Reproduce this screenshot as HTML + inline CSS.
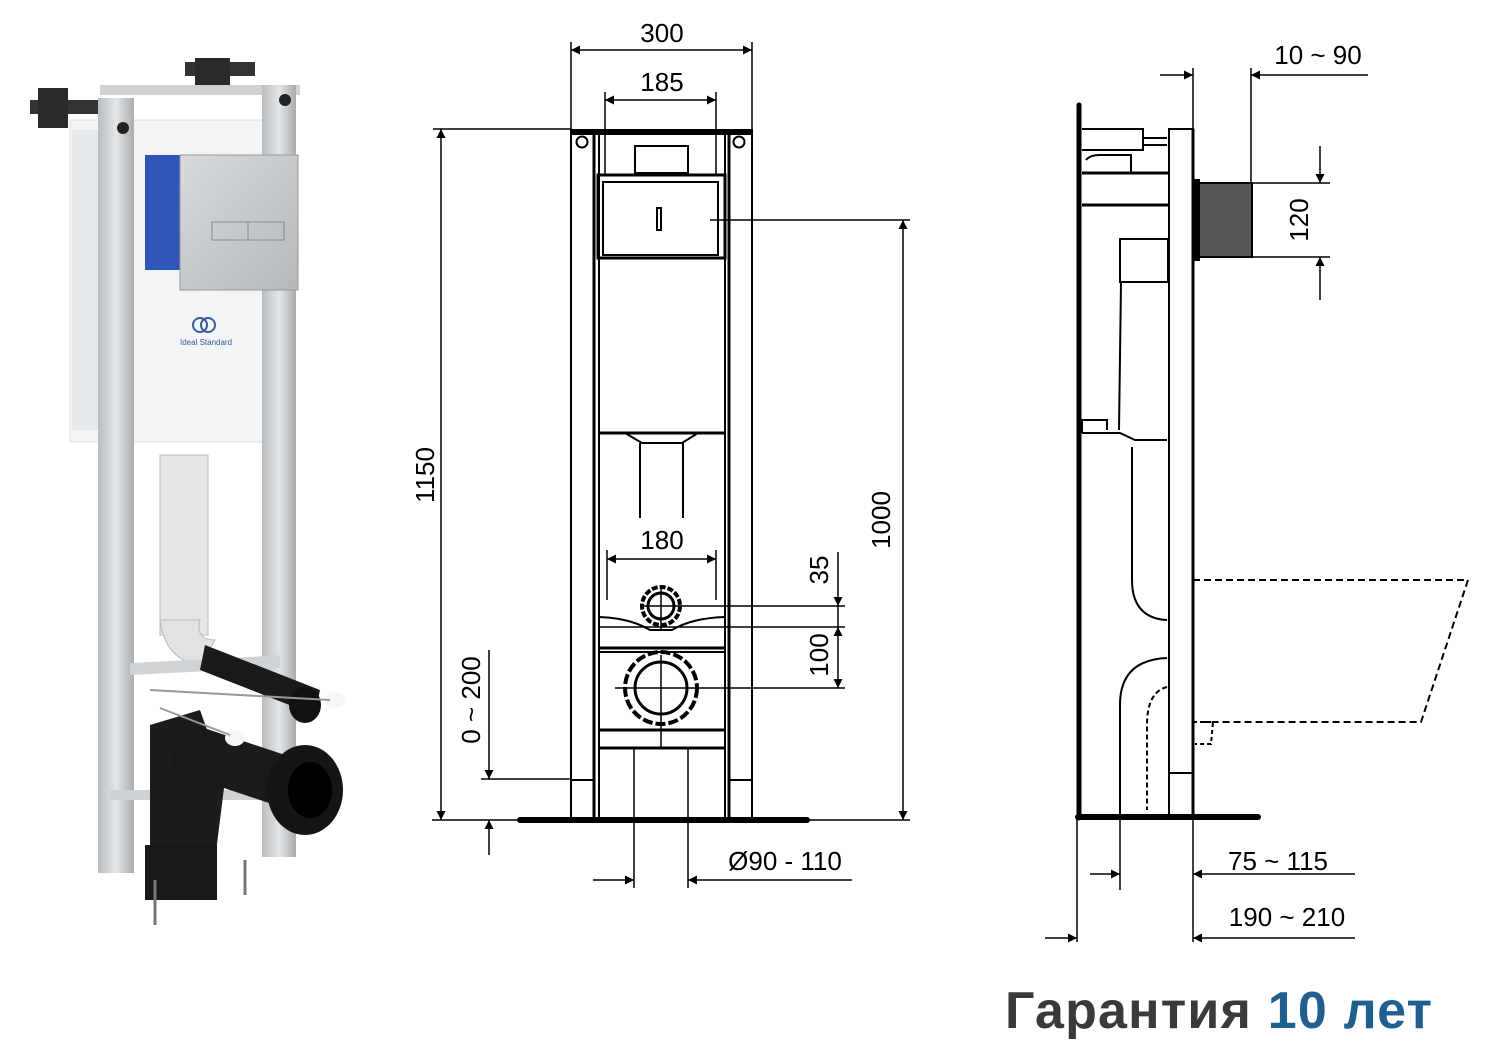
<!DOCTYPE html>
<html><head><meta charset="utf-8"><style>
html,body{margin:0;padding:0;background:#fff;}
svg{display:block;}
text{font-family:"Liberation Sans",sans-serif;}
</style></head><body>
<svg width="1500" height="1063" viewBox="0 0 1500 1063" xmlns="http://www.w3.org/2000/svg">
<defs>
<marker id="a" viewBox="0 0 10 10" refX="10" refY="5" markerWidth="17" markerHeight="9" markerUnits="userSpaceOnUse" orient="auto-start-reverse"><path d="M0,0 L10,5 L0,10 z" fill="#000"/></marker>
<linearGradient id="g1" x1="0" x2="1"><stop offset="0" stop-color="#b8bcc0"/><stop offset="0.5" stop-color="#e4e6e8"/><stop offset="1" stop-color="#a8acb0"/></linearGradient>
<linearGradient id="ch" x1="0" y1="0" x2="1" y2="1"><stop offset="0" stop-color="#d8dadc"/><stop offset="1" stop-color="#b4b8bc"/></linearGradient>
</defs>

<!-- PHOTO -->
<g>
<rect x="30" y="100" width="70" height="14" fill="#333"/>
<rect x="38" y="88" width="30" height="40" fill="#2a2a2a"/>
<rect x="185" y="62" width="70" height="14" fill="#333"/>
<rect x="195" y="58" width="35" height="35" fill="#2a2a2a"/>
<rect x="100" y="85" width="200" height="10" fill="#cfd2d5"/>
<rect x="70" y="120" width="200" height="322" fill="#f2f4f6" stroke="#dde0e3"/>
<rect x="72" y="130" width="30" height="300" fill="#e6e9ec"/>
<rect x="98" y="98" width="36" height="775" fill="url(#g1)"/>
<rect x="262" y="85" width="34" height="772" fill="url(#g1)"/>
<circle cx="123" cy="128" r="6" fill="#222"/>
<circle cx="285" cy="100" r="6" fill="#222"/>
<rect x="145" y="155" width="125" height="115" fill="#2f55b8"/>
<rect x="180" y="155" width="118" height="135" fill="url(#ch)" stroke="#999"/>
<rect x="212" y="222" width="72" height="18" fill="none" stroke="#888"/>
<line x1="248" y1="222" x2="248" y2="240" stroke="#888"/>
<circle cx="200" cy="325" r="7" fill="none" stroke="#3a5a9a" stroke-width="2"/>
<circle cx="208" cy="325" r="7" fill="none" stroke="#3a5a9a" stroke-width="2"/>
<text x="180" y="345" font-size="8" fill="#3a5a9a">Ideal Standard</text>
<rect x="160" y="455" width="48" height="180" fill="#e4e6e8" stroke="#bbb"/>
<path d="M160,620 Q165,660 200,665 L215,640 Q195,640 200,620z" fill="#e0e2e4" stroke="#bbb"/>
<rect x="130" y="670" width="150" height="12" fill="#d0d3d6" transform="skewY(-3)"/>
<rect x="110" y="790" width="160" height="10" fill="#cfd2d5"/>
<path d="M205,645 L320,690 L315,715 L200,670z" fill="#1a1a1a"/>
<ellipse cx="305" cy="705" rx="16" ry="18" fill="#111"/>
<path d="M150,725 L200,710 L225,780 L215,860 L150,860z" fill="#1c1c1c"/>
<path d="M180,720 L300,760 L290,810 L170,770z" fill="#1a1a1a"/>
<ellipse cx="305" cy="790" rx="38" ry="45" fill="#151515"/>
<ellipse cx="310" cy="790" rx="22" ry="28" fill="#000"/>
<rect x="145" y="845" width="72" height="55" fill="#181818"/>
<ellipse cx="335" cy="700" rx="10" ry="8" fill="#f6f6f6"/>
<ellipse cx="235" cy="738" rx="10" ry="8" fill="#f6f6f6"/>
<line x1="150" y1="690" x2="330" y2="700" stroke="#999" stroke-width="2"/>
<line x1="160" y1="708" x2="230" y2="735" stroke="#999" stroke-width="2"/>
<line x1="155" y1="880" x2="155" y2="925" stroke="#777" stroke-width="3"/>
<line x1="245" y1="860" x2="245" y2="895" stroke="#777" stroke-width="3"/>
</g>

<!-- FRONT VIEW -->
<g fill="none" stroke="#000" stroke-width="2">
<rect x="571" y="129" width="181" height="6" fill="#000" stroke="none"/>
<line x1="571" y1="129" x2="571" y2="818"/>
<line x1="752" y1="129" x2="752" y2="818"/>
<line x1="594" y1="135" x2="594" y2="818" stroke-width="3"/>
<line x1="729" y1="135" x2="729" y2="818" stroke-width="3"/>
<line x1="599" y1="135" x2="599" y2="818"/>
<line x1="725" y1="135" x2="725" y2="818"/>
<line x1="571" y1="780" x2="594" y2="780"/>
<line x1="729" y1="780" x2="752" y2="780"/>
<circle cx="582" cy="142" r="5.5"/>
<circle cx="739" cy="142" r="5.5"/>
<rect x="635" y="146" width="53" height="27"/>
<rect x="598" y="175" width="127" height="83" stroke-width="3"/>
<rect x="603" y="182" width="115" height="73"/>
<rect x="657" y="208" width="4" height="22"/>
<line x1="710" y1="220" x2="910" y2="220" stroke-width="1.5"/>
<line x1="599" y1="433" x2="725" y2="433" stroke-width="3"/>
<path d="M625,433 L642,443 L682,443 L698,433"/>
<line x1="640" y1="443" x2="640" y2="518"/>
<line x1="683" y1="443" x2="683" y2="518"/>
<circle cx="661" cy="606" r="13" stroke-width="3"/>
<circle cx="661" cy="606" r="19" stroke-width="4" stroke-dasharray="6 2"/>
<line x1="642" y1="606" x2="845" y2="606" stroke-width="1.5"/>
<line x1="661" y1="585" x2="661" y2="630" stroke-width="1.5"/>
<path d="M599,617 Q630,618 650,630 L672,630 Q692,618 725,617"/>
<line x1="599" y1="648" x2="725" y2="648" stroke-width="3"/>
<line x1="599" y1="652" x2="725" y2="652"/>
<line x1="600" y1="627" x2="845" y2="627" stroke-width="1.5"/>
<circle cx="661" cy="688" r="26" stroke-width="3"/>
<circle cx="661" cy="688" r="36" stroke-width="4" stroke-dasharray="10 3"/>
<line x1="615" y1="688" x2="845" y2="688" stroke-width="1.5"/>
<line x1="661" y1="655" x2="661" y2="748" stroke-width="1.5"/>
<line x1="599" y1="730" x2="725" y2="730" stroke-width="3"/>
<line x1="599" y1="748" x2="725" y2="748" stroke-width="3"/>
<line x1="634" y1="748" x2="634" y2="888" stroke-width="1.5"/>
<line x1="688" y1="748" x2="688" y2="888" stroke-width="1.5"/>
<line x1="520" y1="820" x2="807" y2="820" stroke-width="6" stroke-linecap="round"/>
<line x1="432" y1="820" x2="910" y2="820" stroke-width="1.5"/>
</g>
<g stroke="#000" stroke-width="1.5" fill="none">
<line x1="571" y1="42" x2="571" y2="129"/><line x1="752" y1="42" x2="752" y2="129"/>
<line x1="571" y1="50" x2="752" y2="50" marker-start="url(#a)" marker-end="url(#a)"/>
<line x1="605" y1="92" x2="605" y2="175"/><line x1="716" y1="92" x2="716" y2="175"/>
<line x1="605" y1="100" x2="716" y2="100" marker-start="url(#a)" marker-end="url(#a)"/>
<line x1="433" y1="129" x2="571" y2="129"/>
<line x1="441" y1="129" x2="441" y2="820" marker-start="url(#a)" marker-end="url(#a)"/>
<line x1="903" y1="220" x2="903" y2="820" marker-start="url(#a)" marker-end="url(#a)"/>
<line x1="607" y1="550" x2="607" y2="600"/><line x1="716" y1="550" x2="716" y2="600"/>
<line x1="607" y1="559" x2="716" y2="559" marker-start="url(#a)" marker-end="url(#a)"/>
<line x1="838" y1="552" x2="838" y2="606" marker-end="url(#a)"/>
<line x1="838" y1="606" x2="838" y2="627"/>
<line x1="838" y1="627" x2="838" y2="688" marker-start="url(#a)" marker-end="url(#a)"/>
<line x1="481" y1="779" x2="571" y2="779"/>
<line x1="489" y1="650" x2="489" y2="779" marker-end="url(#a)"/>
<line x1="489" y1="855" x2="489" y2="820" marker-end="url(#a)"/>
<line x1="593" y1="880" x2="634" y2="880" marker-end="url(#a)"/>
<line x1="852" y1="880" x2="688" y2="880" marker-end="url(#a)"/>
</g>
<g font-size="26" fill="#000">
<text x="662" y="42" text-anchor="middle">300</text>
<text x="662" y="91" text-anchor="middle">185</text>
<text x="662" y="549" text-anchor="middle">180</text>
<text x="785" y="870" text-anchor="middle">Ø90 - 110</text>
<text transform="translate(434,475) rotate(-90)" text-anchor="middle">1150</text>
<text transform="translate(890,520) rotate(-90)" text-anchor="middle">1000</text>
<text transform="translate(828,570) rotate(-90)" text-anchor="middle">35</text>
<text transform="translate(828,655) rotate(-90)" text-anchor="middle">100</text>
<text transform="translate(480,700) rotate(-90)" text-anchor="middle">0 ~ 200</text>
</g>

<!-- SIDE VIEW -->
<g fill="none" stroke="#000" stroke-width="2">
<line x1="1079" y1="105" x2="1079" y2="818" stroke-width="5" stroke-linecap="round"/>
<rect x="1169" y="129" width="24" height="690"/>
<line x1="1193" y1="129" x2="1193" y2="818" stroke-width="3"/>
<line x1="1169" y1="773" x2="1193" y2="773"/>
<path d="M1082,129 L1143,129 L1143,150 L1082,150"/>
<path d="M1143,138 L1167,138 M1143,145 L1167,145"/>
<path d="M1086,160 Q1090,155 1100,155 L1131,155 L1131,173"/>
<line x1="1082" y1="173" x2="1169" y2="173" stroke-width="3"/>
<line x1="1082" y1="205" x2="1169" y2="205" stroke-width="3"/>
<rect x="1120" y="239" width="48" height="43"/>
<line x1="1121" y1="282" x2="1119" y2="430"/>
<path d="M1082,433 L1082,420 L1107,420 L1107,430"/>
<path d="M1082,433 L1120,433 L1135,440 L1167,440"/>
<line x1="1132" y1="447" x2="1132" y2="580"/>
<path d="M1132,580 Q1132,618 1167,620"/>
<path d="M1167,658 Q1120,660 1120,705 L1120,818"/>
<path d="M1167,687 Q1147,692 1147,725 L1147,810" stroke-dasharray="5 3"/>
<path d="M1193,580 L1468,580 L1421,722 L1193,722" stroke-dasharray="7 4"/>
<path d="M1193,722 L1213,722 L1211,744 L1195,744" stroke-dasharray="4 3"/>
<line x1="1078" y1="817" x2="1258" y2="817" stroke-width="6" stroke-linecap="round"/>
<rect x="1196" y="183" width="56" height="74" fill="#555" stroke="#000"/>
<rect x="1193" y="180" width="6" height="80" fill="#000"/>
</g>
<g stroke="#000" stroke-width="1.5" fill="none">
<line x1="1193" y1="68" x2="1193" y2="129"/><line x1="1251" y1="68" x2="1251" y2="183"/>
<line x1="1160" y1="75" x2="1193" y2="75" marker-end="url(#a)"/>
<line x1="1368" y1="75" x2="1251" y2="75" marker-end="url(#a)"/>
<line x1="1252" y1="183" x2="1330" y2="183"/><line x1="1252" y1="257" x2="1330" y2="257"/>
<line x1="1320" y1="146" x2="1320" y2="183" marker-end="url(#a)"/>
<line x1="1320" y1="300" x2="1320" y2="257" marker-end="url(#a)"/>
<line x1="1120" y1="818" x2="1120" y2="890"/>
<line x1="1077" y1="818" x2="1077" y2="942"/>
<line x1="1193" y1="818" x2="1193" y2="942"/>
<line x1="1090" y1="874" x2="1120" y2="874" marker-end="url(#a)"/>
<line x1="1355" y1="874" x2="1193" y2="874" marker-end="url(#a)"/>
<line x1="1045" y1="938" x2="1077" y2="938" marker-end="url(#a)"/>
<line x1="1355" y1="938" x2="1193" y2="938" marker-end="url(#a)"/>
</g>
<g font-size="26" fill="#000">
<text x="1318" y="64" text-anchor="middle">10 ~ 90</text>
<text transform="translate(1308,220) rotate(-90)" text-anchor="middle">120</text>
<text x="1278" y="870" text-anchor="middle">75 ~ 115</text>
<text x="1287" y="926" text-anchor="middle">190 ~ 210</text>
</g>

<text x="1005" y="1028" font-size="52" font-weight="bold" fill="#3a3a3a" textLength="427" lengthAdjust="spacing">Гарантия <tspan fill="#1f6090">10 лет</tspan></text>
</svg>
</body></html>
